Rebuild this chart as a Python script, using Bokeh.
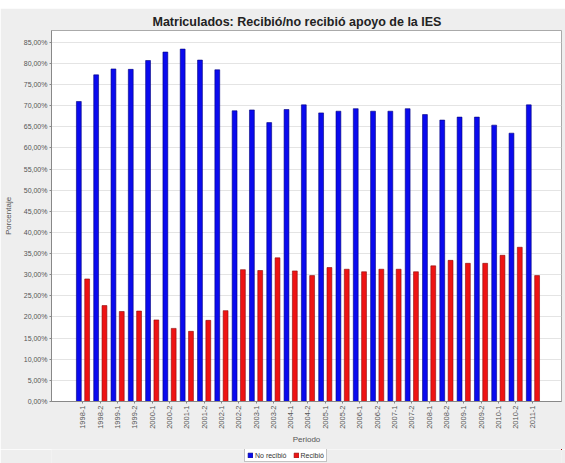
import math
from bokeh.plotting import figure
from bokeh.layouts import column
from bokeh.models import ColumnDataSource, Range1d, FixedTicker, Legend, LegendItem, Spacer
from bokeh.transform import dodge
from bokeh.embed import file_html
from bokeh.resources import INLINE

periods = ["1998-1", "1998-2", "1999-1", "1999-2", "2000-1", "2000-2", "2001-1", "2001-2",
           "2002-1", "2002-2", "2003-1", "2003-2", "2004-1", "2004-2", "2005-1", "2005-2",
           "2006-1", "2006-2", "2007-1", "2007-2", "2008-1", "2008-2", "2009-1", "2009-2",
           "2010-1", "2010-2", "2011-1"]
no_recibio = [71.0, 77.3, 78.7, 78.6, 80.7, 82.7, 83.4, 80.8, 78.5, 68.8, 69.0, 66.0, 69.1,
              70.2, 68.3, 68.7, 69.3, 68.7, 68.7, 69.3, 67.9, 66.6, 67.3, 67.3, 65.4, 63.5, 70.2]
recibio = [29.0, 22.7, 21.3, 21.4, 19.3, 17.3, 16.6, 19.2, 21.5, 31.2, 31.0, 34.0, 30.9,
           29.8, 31.7, 31.3, 30.7, 31.3, 31.3, 30.7, 32.1, 33.4, 32.7, 32.7, 34.6, 36.5, 29.8]
y_ticks = [0, 5, 10, 15, 20, 25, 30, 35, 40, 45, 50, 55, 60, 65, 70, 75, 80, 85]
series_names = ["No recibió", "Recibió"]
series_colors = ["#0A0AEE", "#EE1414"]
series_lines = ["#00007A", "#8A0A0A"]

FONT = "Liberation Sans"
BG = "#EEEEEE"
W = 565
idx = list(range(1, len(periods) + 1))
src = ColumnDataSource(dict(x=idx, nr=no_recibio, r=recibio))

p = figure(width=W, height=441, output_backend="svg", toolbar_location=None,
           x_range=Range1d(1 - 1.82, len(periods) + 1.65), y_range=Range1d(0, 87.8),
           min_border_left=51, min_border_right=4, min_border_top=22, min_border_bottom=48)
p.title.text = "Matriculados: Recibió/no recibió apoyo de la IES"
p.title.align = "left"
p.title.text_font = FONT
p.title.text_font_size = "12.5px"
p.title.text_font_style = "bold"
p.title.text_color = "#222222"
p.title.offset = 101
p.title.standoff = 4

p.background_fill_color = "#FFFFFF"
p.border_fill_color = BG
p.outline_line_color = "#AAAAAA"

r1 = p.vbar(x=dodge("x", -0.24), top="nr", width=0.28, source=src,
            fill_color=series_colors[0], line_color=series_lines[0], line_width=0.6)
r2 = p.vbar(x=dodge("x", 0.24), top="r", width=0.28, source=src,
            fill_color=series_colors[1], line_color=series_lines[1], line_width=0.6)

p.xaxis.ticker = FixedTicker(ticks=idx)
p.xaxis.major_label_overrides = {i: s for i, s in zip(idx, periods)}
p.xaxis.major_label_orientation = math.pi / 2
p.xaxis.axis_label = "Periodo"
p.yaxis.ticker = FixedTicker(ticks=y_ticks)
p.yaxis.major_label_overrides = {t: f"{t},00%" for t in y_ticks}
p.yaxis.axis_label = "Porcentaje"
for ax in (p.xaxis[0], p.yaxis[0]):
    ax.major_label_text_font = FONT
    ax.major_label_text_font_size = "7px"
    ax.major_label_text_color = "#555555"
    ax.axis_label_text_font = FONT
    ax.axis_label_text_font_size = "8px"
    ax.axis_label_text_font_style = "normal"
    ax.axis_label_text_color = "#555555"
    ax.axis_line_color = "#888888"
    ax.major_tick_line_color = "#888888"
    ax.minor_tick_line_color = None
    ax.major_tick_in = 0
    ax.major_tick_out = 2
    ax.major_label_standoff = 2
    ax.axis_label_standoff = 3
p.xaxis.major_label_text_font_size = "7.5px"
p.yaxis.axis_label_standoff = 8

p.xgrid.grid_line_color = None
p.ygrid.grid_line_color = "#E4E4E4"
p.ygrid.ticker = FixedTicker(ticks=y_ticks)

# legend strip below the chart; proxy renderers use the same data but lie outside its view
lg = figure(width=W, height=14, output_backend="svg", toolbar_location=None,
            x_range=Range1d(-3, -2), y_range=Range1d(-3, -2),
            min_border=0, min_border_left=0, min_border_right=0,
            min_border_top=0, min_border_bottom=0)
lg.axis.visible = False
lg.grid.visible = False
lg.outline_line_color = None
lg.background_fill_color = BG
lg.border_fill_color = BG
d1 = lg.vbar(x="x", top="nr", width=0.28, source=src,
             fill_color=series_colors[0], line_color=series_lines[0], line_width=0.6)
d2 = lg.vbar(x="x", top="r", width=0.28, source=src,
             fill_color=series_colors[1], line_color=series_lines[1], line_width=0.6)
legend = Legend(items=[LegendItem(label=series_names[0], renderers=[d1]),
                       LegendItem(label=series_names[1], renderers=[d2])],
                orientation="horizontal", location=(193, 1),
                label_text_font=FONT, label_text_font_size="7px", label_text_color="#333333",
                glyph_width=6, glyph_height=6, label_standoff=2, spacing=6,
                padding=2, margin=0, label_height=8,
                border_line_color="#888888", background_fill_color="#FFFFFF")
lg.add_layout(legend, "center")

layout = column(Spacer(width=W, height=8), p, lg, spacing=0)
open("out.html", "w").write(file_html(layout, INLINE))
